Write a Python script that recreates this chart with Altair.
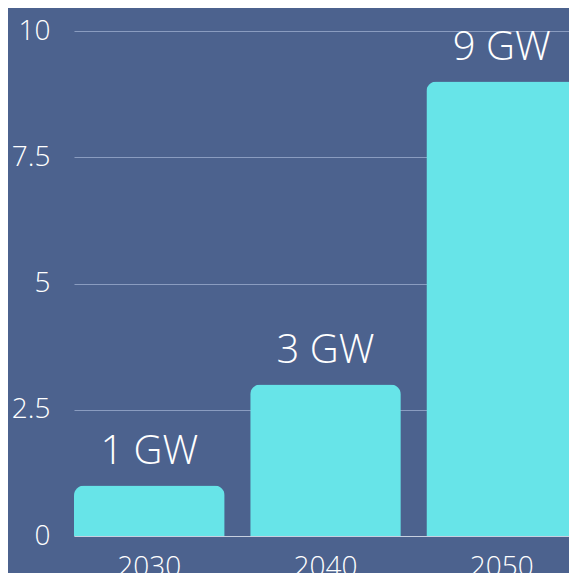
import altair as alt
import pandas as pd

years = ["2030", "2040", "2050"]
capacity = [1, 3, 9]
labels = ["1 GW", "3 GW", "9 GW"]
y_ticks = [0, 2.5, 5, 7.5, 10]

df = pd.DataFrame({"year": years, "gw": capacity, "label": labels})

FONT = "Open Sans"

base = alt.Chart(df).encode(
    x=alt.X("year:N", sort=years,
            scale=alt.Scale(paddingInner=0.145, paddingOuter=0),
            axis=alt.Axis(title=None, labelAngle=0, labelFontSize=28, labelFont=FONT,
                          labelFontWeight=300, labelColor="#ffffff", labelPadding=17,
                          ticks=False, domain=True, domainColor="#c8d0e0", domainWidth=1,
                          grid=False)),
)

bars = base.mark_bar(color="#67e4e8", cornerRadiusTopLeft=10, cornerRadiusTopRight=10).encode(
    y=alt.Y("gw:Q", scale=alt.Scale(domain=[0, 10]),
            axis=alt.Axis(title=None, values=y_ticks, labelExpr="'' + datum.value",
                          labelFontSize=28, labelFont=FONT, labelFontWeight=300,
                          labelColor="#ffffff", labelPadding=24, ticks=False,
                          domain=False, grid=True, gridColor="#8a9cc0", gridWidth=1))
)

text = base.mark_text(font=FONT, fontSize=40, fontWeight=300, color="#ffffff",
                      baseline="bottom", dy=-14).encode(
    y="gw:Q", text="label:N"
)

chart = (bars + text).properties(
    width=503, height=505,
    background="#4c628e",
    padding={"left": 66, "top": 23, "right": -8, "bottom": 37},
    autosize=alt.AutoSizeParams(type="none"),
).configure_view(stroke=None)

chart.save("out.html", embed_options={"renderer": "svg", "actions": False})
